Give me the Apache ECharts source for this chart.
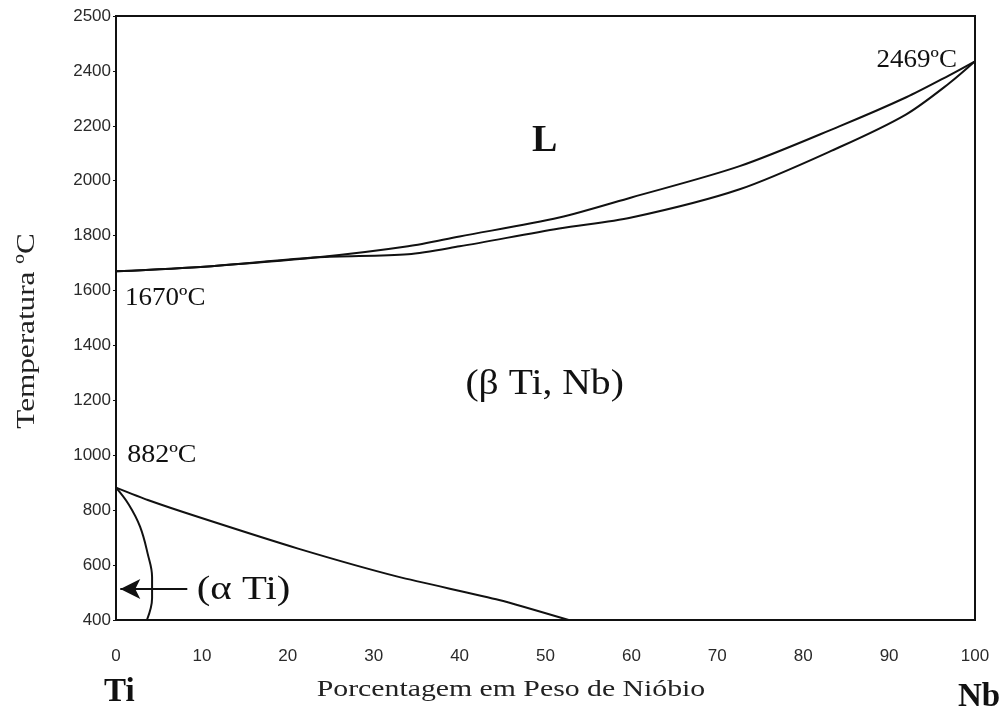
<!DOCTYPE html>
<html>
<head>
<meta charset="utf-8">
<script src="https://cdn.jsdelivr.net/npm/echarts@6/dist/echarts.min.js"></script>
<style>
html,body{margin:0;padding:0;background:#fff;}
#chart{width:1003px;height:711px;}
</style>
</head>
<body>
<div id="chart"></div>
<script>
// Liquidus (upper) curve
const liquidusX = [0, 10.7, 23.5, 34, 40, 51.6, 60, 72.6, 84.2, 92, 97, 100];
const liquidusT = [1670, 1688, 1721, 1761, 1797, 1866, 1939, 2053, 2198, 2304, 2384, 2435];
// Solidus (lower) curve
const solidusX = [0, 10.7, 23.5, 34, 40, 51.6, 60, 72.6, 84.2, 92, 97, 100];
const solidusT = [1670, 1688, 1721, 1732, 1761, 1826, 1866, 1969, 2122, 2242, 2355, 2435];
// beta transus line (β / α+β)
const transusX = [0, 3.7, 9.6, 21.2, 32.9, 44.6, 52.7];
const transusT = [882, 837, 775, 660, 557, 473, 400];
// alpha solvus line (α / α+β)
const solvusX = [0, 1.5, 2.8, 3.7, 4.2, 4.2, 3.6];
const solvusT = [882, 820, 740, 640, 557, 480, 400];
// arrow pointing to α Ti region
const arrowX = [8.3, 0.5];
const arrowT = [513, 513];
// tick labels
const xTickValues = [0, 10, 20, 30, 40, 50, 60, 70, 80, 90, 100];
const yTickValues = [400, 600, 800, 1000, 1200, 1400, 1600, 1800, 2000, 2200, 2400, 2600];
const yTickLabels = ['400', '600', '800', '1000', '1200', '1400', '1600', '1800', '2000', '2200', '2400', '2500'];
// region / point labels (anchored in data coordinates)
const annotTexts = ['L', '(β Ti, Nb)', '1670ºC', '882ºC', '2469ºC', '(α Ti)'];
const annotX = [49.9, 49.9, 1.05, 1.3, 97.9, 9.4];
const annotT = [2144, 1259, 1572, 999, 2438, 509];

const pair = (xs, ys) => xs.map((x, i) => [x, ys[i]]);
const serif = '"Liberation Serif", "Times New Roman", serif';
const sans = '"Liberation Sans", Arial, sans-serif';

const annotStyles = [
  {font: 'bold 38px ' + serif, align: 'center', scale: 1.0},
  {font: '36px ' + serif, align: 'center', scale: 1.1},
  {font: '25px ' + serif, align: 'left', scale: 1.08},
  {font: '25px ' + serif, align: 'left', scale: 1.12},
  {font: '25px ' + serif, align: 'right', scale: 1.08},
  {font: '34px ' + serif, align: 'left', scale: 1.2}
];

const chart = echarts.init(document.getElementById('chart'));
const lineStyle = {color: '#111', width: 2};
chart.setOption({
  animation: false,
  backgroundColor: '#fff',
  grid: {left: 116, right: 28, top: 16, bottom: 91, show: true, borderColor: '#111', borderWidth: 2},
  xAxis: {
    type: 'value', min: 0, max: 100, interval: 10,
    axisLine: {lineStyle: {color: '#111', width: 2}},
    axisTick: {show: false},
    splitLine: {show: false},
    axisLabel: {fontFamily: sans, fontSize: 17, color: '#2a2a2a', margin: 28,
      formatter: v => xTickValues.includes(v) ? String(v) : ''}
  },
  yAxis: {
    type: 'value', min: 400, max: 2600, interval: 200,
    axisLine: {lineStyle: {color: '#111', width: 2}},
    axisTick: {show: true, length: 3, lineStyle: {color: '#111'}},
    splitLine: {show: false},
    axisLabel: {fontFamily: sans, fontSize: 17, color: '#2a2a2a', margin: 5,
      formatter: v => { const i = yTickValues.indexOf(v); return i >= 0 ? yTickLabels[i] : ''; }}
  },
  series: [
    {type: 'line', data: pair(liquidusX, liquidusT), smooth: 0.3, showSymbol: false, lineStyle},
    {type: 'line', data: pair(solidusX, solidusT), smooth: 0.3, showSymbol: false, lineStyle},
    {type: 'line', data: pair(transusX, transusT), smooth: 0.2, showSymbol: false, lineStyle},
    {type: 'line', data: pair(solvusX, solvusT), smooth: 0.4, showSymbol: false, lineStyle},
    {type: 'line', data: [], markLine: {
      silent: true, symbol: ['none', 'arrow'], symbolSize: [15, 20], label: {show: false},
      lineStyle: {color: '#111', width: 2, type: 'solid'},
      data: [[{coord: [arrowX[0], arrowT[0]]}, {coord: [arrowX[1], arrowT[1]]}]]
    }}
  ]
});

// Text annotations positioned through the chart's own scales
const graphics = annotTexts.map((t, i) => {
  const p = chart.convertToPixel({gridIndex: 0}, [annotX[i], annotT[i]]);
  const s = annotStyles[i];
  return {type: 'text', x: p[0], y: p[1], scaleX: s.scale, silent: true,
    style: {text: t, font: s.font, fill: '#111', align: s.align, verticalAlign: 'middle'}};
});
// axis titles and element symbols
graphics.push(
  {type: 'text', x: 511, y: 690, scaleX: 1.24, silent: true,
    style: {text: 'Porcentagem em Peso de Nióbio', font: '24px ' + serif, fill: '#222', align: 'center', verticalAlign: 'middle'}},
  {type: 'text', x: 27, y: 331, rotation: Math.PI / 2, scaleX: 1.2, silent: true,
    style: {text: 'Temperatura ºC', font: '26px ' + serif, fill: '#222', align: 'center', verticalAlign: 'middle'}},
  {type: 'text', x: 104, y: 692, silent: true,
    style: {text: 'Ti', font: 'bold 33px ' + serif, fill: '#111', align: 'left', verticalAlign: 'middle'}},
  {type: 'text', x: 958, y: 697, silent: true,
    style: {text: 'Nb', font: 'bold 33px ' + serif, fill: '#111', align: 'left', verticalAlign: 'middle'}}
);
chart.setOption({graphic: graphics});
</script>
</body>
</html>
